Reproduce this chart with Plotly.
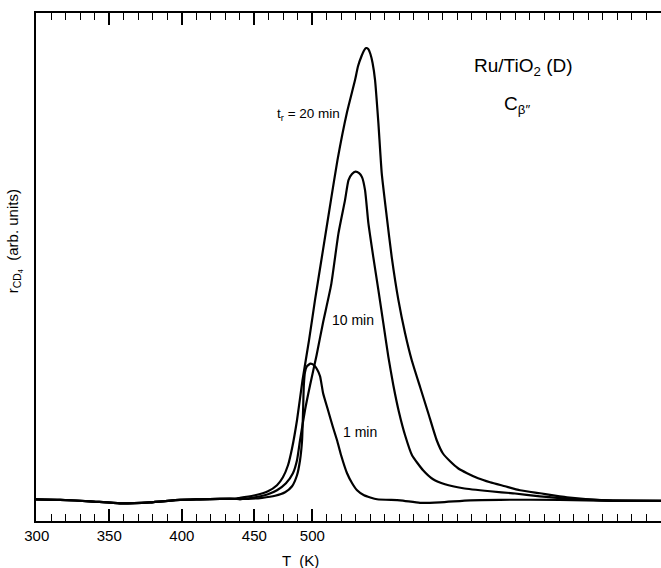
import plotly.graph_objects as go

# Temperature-programmed reaction traces, CD4 formation rate vs T
base_left_T = [299.5, 316.1, 336.7, 357.4, 378.1, 398.8, 412.5, 426.3, 436.7]
base_left_r = [0.01, 0.005, -0.01, -0.03, -0.02, 0.005, 0.01, 0.015, 0.015]

t20_T = base_left_T + [440.1, 450.5, 459.4, 465.6, 469.7, 473.2, 476.0, 479.4, 483.2, 487.7,
                       491.8, 497.3, 502.8, 507.3, 513.9, 519.4, 521.5, 523.9, 525.6, 527.0,
                       528.5, 530.0, 531.5, 533.2, 535.5, 537.8, 541.3, 544.7, 549.3, 553.9,
                       558.5, 564.3, 569.9, 575.7, 579.9, 584.9, 590.4, 596.6, 604.2, 612.5,
                       622.8, 633.1, 646.9, 665.5, 697.2, 730.3]
t20_r = base_left_r + [0.025, 0.05, 0.09, 0.15, 0.23, 0.35, 0.52, 0.80, 1.20, 1.60,
                       2.00, 2.50, 3.00, 3.40, 3.88, 4.20, 4.34, 4.44, 4.495, 4.52,
                       4.51, 4.46, 4.37, 4.20, 3.77, 3.27, 2.83, 2.43, 2.00, 1.67,
                       1.40, 1.13, 0.87, 0.60, 0.47, 0.39, 0.32, 0.27, 0.22, 0.18,
                       0.14, 0.10, 0.07, 0.03, -0.005, -0.005]

t10_T = base_left_T + [440.1, 450.5, 459.4, 465.6, 471.8, 476.6, 479.4, 481.5, 484.9, 488.4,
                       492.9, 497.4, 502.9, 508.0, 512.5, 514.9, 517.3, 519.7, 522.2, 524.2,
                       526.3, 528.6, 532.0, 535.5, 538.9, 542.4, 545.8, 549.7, 553.9, 558.7,
                       566.3, 573.2, 581.4, 593.9, 612.5, 628.3, 646.9, 667.6, 697.2, 730.3]
t10_r = base_left_r + [0.01, 0.03, 0.06, 0.10, 0.17, 0.27, 0.40, 0.60, 0.90, 1.15,
                       1.45, 1.78, 2.15, 2.67, 3.00, 3.20, 3.26, 3.285, 3.27, 3.23,
                       3.10, 2.77, 2.43, 2.10, 1.77, 1.43, 1.15, 0.88, 0.65, 0.45,
                       0.30, 0.21, 0.16, 0.12, 0.09, 0.07, 0.04, 0.015, 0.0, -0.005]

t1_T = base_left_T + [445.6, 455.3, 464.3, 471.2, 476.0, 479.4, 481.5, 482.9, 483.6, 484.1,
                      484.9, 486.3, 488.7, 491.1, 493.2, 495.3, 497.4, 500.8, 504.2, 507.0,
                      509.8, 513.9, 517.4, 520.8, 525.6, 534.6, 550.4, 564.2, 578.0, 598.7,
                      619.4, 660.7, 697.2, 730.3]
t1_r = base_left_r + [0.015, 0.025, 0.045, 0.08, 0.14, 0.25, 0.40, 0.60, 0.90, 1.15,
                      1.28, 1.34, 1.365, 1.35, 1.31, 1.24, 1.07, 0.90, 0.73, 0.60,
                      0.45, 0.27, 0.17, 0.10, 0.05, 0.01, 0.0, -0.025, -0.02, 0.0,
                      0.005, 0.005, -0.005, -0.005]

tick_vals = [300, 350, 400, 450, 490]
tick_text = ["300", "350", "400", "450", "500"]

FONT = "Liberation Sans, Arial, Helvetica, sans-serif"
line_style = dict(color="black", width=2.2, shape="spline", smoothing=0.5)

fig = go.Figure()
for T, r in [(t20_T, t20_r), (t10_T, t10_r), (t1_T, t1_r)]:
    fig.add_trace(go.Scatter(x=T, y=r, mode="lines", line=line_style,
                             showlegend=False, hoverinfo="skip"))

fig.update_layout(
    width=661, height=568,
    margin=dict(l=36, r=0, t=13, b=47),
    paper_bgcolor="white", plot_bgcolor="white",
    font=dict(family=FONT, color="black", size=15),
    xaxis=dict(
        range=[299.5, 730.3], showgrid=False, zeroline=False,
        showline=True, linecolor="black", linewidth=2, mirror="ticks",
        tickmode="array", tickvals=tick_vals, ticktext=tick_text,
        ticks="inside", ticklen=12, tickwidth=1.5, tickcolor="black",
        tickfont=dict(size=15),
        minor=dict(tick0=300, dtick=10, ticks="inside", ticklen=7,
                   tickwidth=1.3, tickcolor="black", showgrid=False),
    ),
    yaxis=dict(
        range=[-0.207, 4.87], showgrid=False, zeroline=False,
        showline=True, linecolor="black", linewidth=2,
        showticklabels=False, ticks="",
    ),
)

annotations = [
    dict(x=487.5, y=3.86, text="t<sub>r</sub> = 20 min", font=dict(size=13.5)),
    dict(x=517.7, y=1.80, text="10 min", font=dict(size=14)),
    dict(x=522.9, y=0.68, text="1 min", font=dict(size=14)),
    dict(x=635.5, y=4.33, text="Ru/TiO<sub>2</sub> (D)", font=dict(size=19)),
    dict(x=620.5, y=3.95, text="C<sub>β″</sub>", font=dict(size=19), xanchor="left"),
]
for a in annotations:
    a.setdefault("xanchor", "center")
    fig.add_annotation(xref="x", yref="y", showarrow=False, yanchor="middle", **a)

# axis titles
fig.add_annotation(xref="paper", yref="paper", x=0.4224, y=-0.077,
                   text="T  (K)", showarrow=False, xanchor="center",
                   yanchor="middle", font=dict(size=15))
fig.add_annotation(xref="paper", yref="paper", x=-0.034, y=0.55,
                   text="r<sub>CD<sub>4</sub></sub>  (arb. units)", textangle=-90,
                   showarrow=False, xanchor="center", yanchor="middle",
                   font=dict(size=15))

fig.write_html("out.html")
